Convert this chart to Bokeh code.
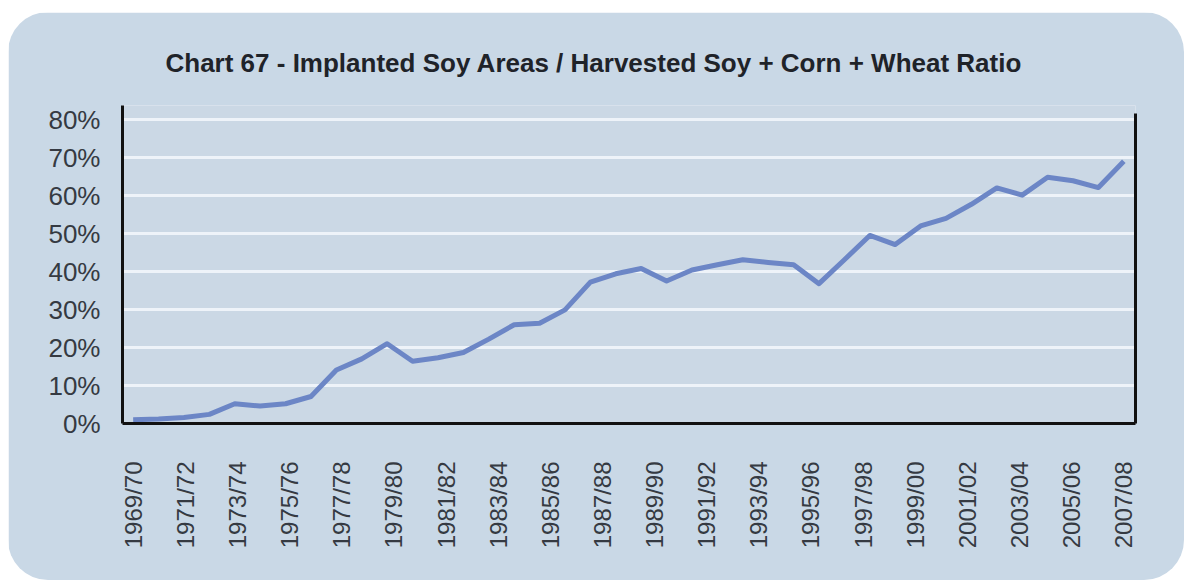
from bokeh.plotting import figure
from bokeh.models import Range1d, LinearAxis, FixedTicker, PrintfTickFormatter, ColumnDataSource
from bokeh.embed import file_html
from bokeh.resources import INLINE
from math import pi

# ---------------- data ----------------
seasons = ["1969/70", "1970/71", "1971/72", "1972/73", "1973/74", "1974/75", "1975/76",
           "1976/77", "1977/78", "1978/79", "1979/80", "1980/81", "1981/82", "1982/83",
           "1983/84", "1984/85", "1985/86", "1986/87", "1987/88", "1988/89", "1989/90",
           "1990/91", "1991/92", "1992/93", "1993/94", "1994/95", "1995/96", "1996/97",
           "1997/98", "1998/99", "1999/00", "2000/01", "2001/02", "2002/03", "2003/04",
           "2004/05", "2005/06", "2006/07", "2007/08", "2008/09"]
ratio_pct = [1.0, 1.2, 1.6, 2.4, 5.2, 4.6, 5.2, 7.1, 14.1, 17.0,
             21.0, 16.4, 17.3, 18.7, 22.2, 26.0, 26.4, 29.9, 37.2, 39.4,
             40.8, 37.5, 40.4, 41.8, 43.1, 42.4, 41.8, 36.8, 43.1, 49.5,
             47.1, 52.0, 54.0, 57.7, 62.0, 60.1, 64.8, 63.9, 62.1, 69.0]
y_ticks = [0, 10, 20, 30, 40, 50, 60, 70, 80]
label_slots = seasons[:-1]          # category slots used by the axis labels
tick_labels = label_slots[::2]      # every other season is labelled

title_text = "Chart 67 - Implanted Soy Areas / Harvested Soy + Corn + Wheat Ratio"

# ---------------- styles ----------------
PANEL = "#C9D8E6"
FRAME = "#CBD8E5"
GRID = "#EEF3F9"
LINE = "#6C86C6"
AXIS = "#111111"
TEXT = "#353a42"
FONT = "Liberation Sans"

x_idx = list(range(len(seasons)))
src = ColumnDataSource(dict(x=x_idx, ratio=ratio_pct, season=seasons))

x_lo, x_hi = -0.42, len(seasons) - 1 + 0.46
scale = (len(label_slots) - 1) / (len(seasons) - 1)

p = figure(width=1176, height=568, output_backend="svg", toolbar_location=None,
           x_range=Range1d(x_lo, x_hi), y_range=Range1d(0, 83.7),
           x_axis_location=None,
           min_border_left=114, min_border_right=49, min_border_top=93, min_border_bottom=157,
           background_fill_color=FRAME, border_fill_color=PANEL, outline_line_color=None,
           styles={"border-radius": "40px", "overflow": "hidden",
                   "margin-top": "12px", "margin-left": "8px"})

p.extra_x_ranges = {"lab": Range1d(x_lo * scale, x_hi * scale)}

# title
p.title.text = title_text
p.title.align = "left"
p.title.offset = 43
p.title.standoff = 56
p.title.text_font = FONT
p.title.text_font_size = "26px"
p.title.text_font_style = "bold"
p.title.text_color = "#1f2329"

# left axis
ya = p.yaxis[0]
ya.ticker = FixedTicker(ticks=y_ticks)
ya.formatter = PrintfTickFormatter(format="%d%%")
ya.axis_line_color = AXIS
ya.axis_line_width = 3
ya.major_tick_line_color = None
ya.minor_tick_line_color = None
ya.major_tick_out = 0
ya.major_tick_in = 0
ya.major_label_standoff = 22
ya.major_label_text_font = FONT
ya.major_label_text_font_size = "26px"
ya.major_label_text_color = TEXT

# right axis (line only)
ra = LinearAxis(bounds=(0, 81.6), ticker=FixedTicker(ticks=[]),
                axis_line_color=AXIS, axis_line_width=3,
                major_tick_line_color=None, minor_tick_line_color=None,
                major_label_text_font_size="0px")
p.add_layout(ra, "right")

# bottom axis with season labels
lab_ticks = [label_slots.index(s) for s in tick_labels]
ba = LinearAxis(x_range_name="lab", ticker=FixedTicker(ticks=lab_ticks),
                major_label_overrides={t: label_slots[t] for t in lab_ticks},
                axis_line_color=AXIS, axis_line_width=3,
                major_tick_line_color=None, minor_tick_line_color=None,
                major_tick_out=0, major_tick_in=0,
                major_label_standoff=38, major_label_orientation=pi / 2,
                major_label_text_font=FONT, major_label_text_font_size="24px",
                major_label_text_color=TEXT)
p.add_layout(ba, "below")

# grid
p.xgrid.visible = False
p.ygrid.ticker = FixedTicker(ticks=y_ticks[1:])
p.ygrid.grid_line_color = GRID
p.ygrid.grid_line_width = 3

p.line(x="x", y="ratio", source=src, line_color=LINE, line_width=5, line_join="round")

open("out.html", "w").write(file_html(p, INLINE))
